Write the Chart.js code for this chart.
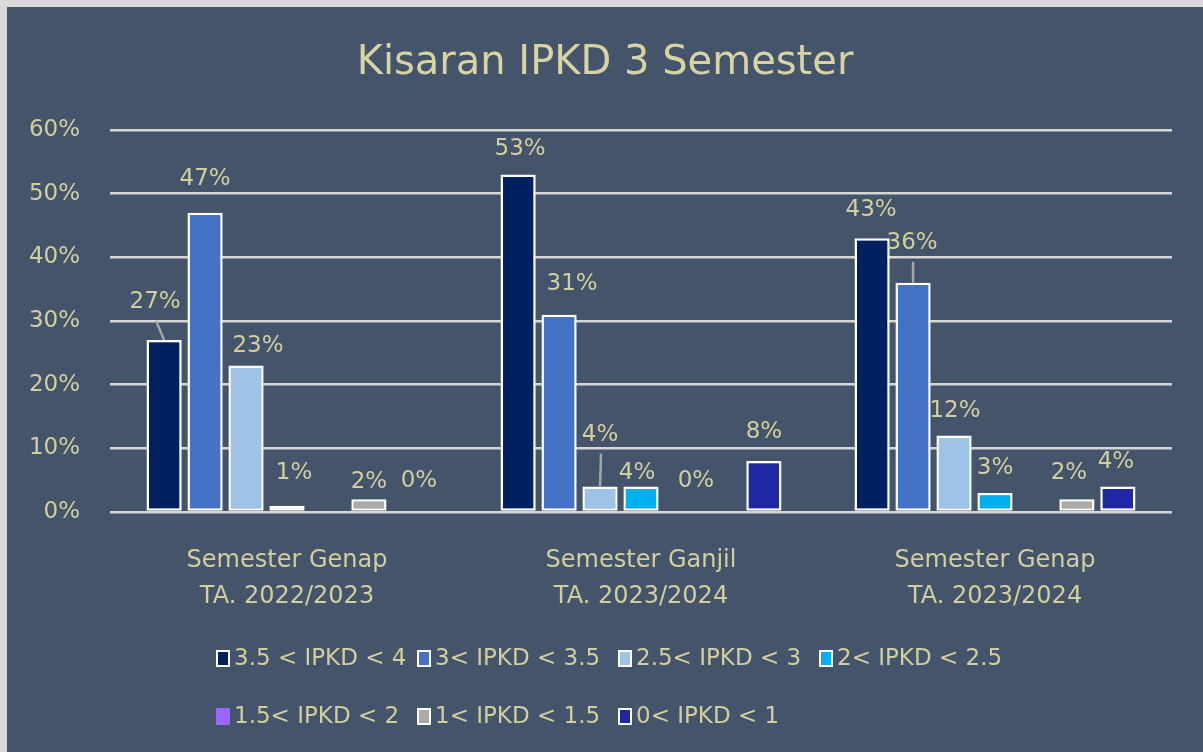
<!DOCTYPE html>
<html>
<head>
<meta charset="utf-8">
<script src="https://cdn.jsdelivr.net/npm/chart.js@4.4.0/dist/chart.umd.min.js"></script>
<style>
html, body { margin: 0; padding: 0; background: #dadada; }
#wrap { position: absolute; left: 7px; top: 7px; width: 1196px; height: 745px; background: #44546A; }
</style>
</head>
<body>
<div id="wrap"><canvas id="myChart"></canvas></div>
<script>
// data
const categories = [
    ['Semester Genap', 'TA. 2022/2023'],
    ['Semester Ganjil', 'TA. 2023/2024'],
    ['Semester Genap', 'TA. 2023/2024'],
];
const seriesNames = ['3.5 < IPKD < 4', '3< IPKD < 3.5', '2.5< IPKD < 3', '2< IPKD < 2.5', '1.5< IPKD < 2', '1< IPKD < 1.5', '0< IPKD < 1'];
const ipkd35to4 = [27, 53, 43];
const ipkd3to35 = [47, 31, 36];
const ipkd25to3 = [23, 4, 12];
const ipkd2to25 = [1, 4, 3];
const ipkd15to2 = [0, 0, 0];
const ipkd1to15 = [2, 0, 2];
const ipkd0to1 = [0, 8, 4];
const yTicks = [0, 10, 20, 30, 40, 50, 60];

const seriesValues = [ipkd35to4, ipkd3to35, ipkd25to3, ipkd2to25, ipkd15to2, ipkd1to15, ipkd0to1];
const seriesColors = ['#002060', '#4472C4', '#9DC3E6', '#00B0F0', '#9966FF', '#AEAAAA', '#2027A4'];
const noLabels = [false, false, false, false, true, false, false];

const textColor = '#D2CE9E';
const fontFamily = '"DejaVu Sans", sans-serif';

// label nudges [dx, dy from bar top, leader line] -- excel moved a few labels around
const labelNudge = {
    '0,0': [-9, -38, true], '1,0': [0, -34], '2,0': [12, -20], '3,0': [7, -33], '5,0': [0, -17], '6,0': [9, -31],
    '0,1': [2, -26], '1,1': [13, -31], '2,1': [0, -52, true], '3,1': [-4, -14], '5,1': [-27, -31], '6,1': [0, -29],
    '0,2': [-1, -28], '1,2': [-1, -40, true], '2,2': [1, -25], '3,2': [0, -25], '5,2': [-8, -26], '6,2': [-2, -25],
};

const valueLabels = {
    id: 'valueLabels',
    afterDatasetsDraw(chart) {
        const ctx = chart.ctx;
        ctx.save();
        ctx.font = '23px ' + fontFamily;
        ctx.textAlign = 'center';
        ctx.textBaseline = 'middle';
        chart.data.datasets.forEach((ds, di) => {
            if (noLabels[di]) return;
            chart.getDatasetMeta(di).data.forEach((bar, i) => {
                const nudge = labelNudge[di + ',' + i] || [0, -27];
                const x = bar.x + nudge[0];
                const y = bar.y + nudge[1];
                if (nudge[2]) {
                    ctx.strokeStyle = '#A6A6A6';
                    ctx.lineWidth = 2.5;
                    ctx.beginPath();
                    ctx.moveTo(x + 1, y + 19);
                    ctx.lineTo(bar.x, bar.y);
                    ctx.stroke();
                }
                ctx.fillStyle = textColor;
                ctx.fillText(ds.data[i] + '%', x, y);
            });
        });
        ctx.restore();
    }
};

// excel style legend: 4 fixed columns, 2 rows
const gridLegend = {
    id: 'gridLegend',
    afterDraw(chart) {
        const ctx = chart.ctx;
        const left = 209, colW = 201, rowY = [651, 709], perRow = 4;
        ctx.save();
        ctx.font = '23px ' + fontFamily;
        ctx.textAlign = 'left';
        ctx.textBaseline = 'middle';
        chart.data.datasets.forEach((ds, i) => {
            const x = left + (i % perRow) * colW;
            const y = rowY[Math.floor(i / perRow)];
            ctx.fillStyle = ds.backgroundColor;
            ctx.fillRect(x, y - 8, 14, 17);
            if (ds.borderWidth) {
                ctx.strokeStyle = '#ffffff';
                ctx.lineWidth = 2;
                ctx.strokeRect(x + 1, y - 7, 12, 15);
            }
            ctx.fillStyle = textColor;
            ctx.fillText(ds.label, x + 18, y + 1);
        });
        ctx.restore();
    }
};

const ctx = document.getElementById('myChart').getContext('2d');

const myChart = new Chart(ctx, {
    type: 'bar',
    data: {
        labels: categories,
        datasets: seriesNames.map((name, i) => ({
            label: name,
            data: seriesValues[i],
            backgroundColor: seriesColors[i],
            borderColor: '#ffffff',
            borderWidth: noLabels[i] ? 0 : 2.5,
            borderSkipped: false,
            categoryPercentage: 0.81,
            barPercentage: 0.86,
        })),
    },
    options: {
        responsive: true,
        maintainAspectRatio: false,
        animation: false,
        layout: {
            padding: { top: 0, left: 0, right: 0, bottom: 146 },
        },
        scales: {
            x: {
                grid: { display: false },
                border: { display: false },
                ticks: {
                    color: textColor,
                    font: { family: fontFamily, size: 24, lineHeight: 1.5 },
                    padding: 23,
                    maxRotation: 0,
                },
                afterFit: (scale) => { scale.height = 94; },
            },
            y: {
                min: 0,
                max: 60,
                afterBuildTicks: (scale) => { scale.ticks = yTicks.map(v => ({ value: v })); },
                ticks: {
                    color: textColor,
                    font: { family: fontFamily, size: 23 },
                    padding: 30,
                    callback: (v) => v + '%',
                },
                grid: { color: '#D6D6D6', lineWidth: 2.5, drawTicks: false },
                border: { display: false },
                afterFit: (scale) => { scale.width = 103; },
            },
            // empty axis on the right, only to leave the gap after the gridlines
            gap: {
                type: 'linear',
                position: 'right',
                grid: { display: false },
                border: { display: false },
                ticks: { display: false },
                afterFit: (scale) => { scale.width = 31; },
            },
        },
        plugins: {
            legend: { display: false },
            tooltip: { enabled: false },
            title: {
                display: true,
                text: 'Kisaran IPKD 3 Semester',
                color: '#D8D3A2',
                font: { family: fontFamily, size: 40, weight: 'normal' },
                padding: { top: 33, bottom: 42 },
            },
        },
    },
    plugins: [valueLabels, gridLegend],
});
</script>
</body>
</html>
